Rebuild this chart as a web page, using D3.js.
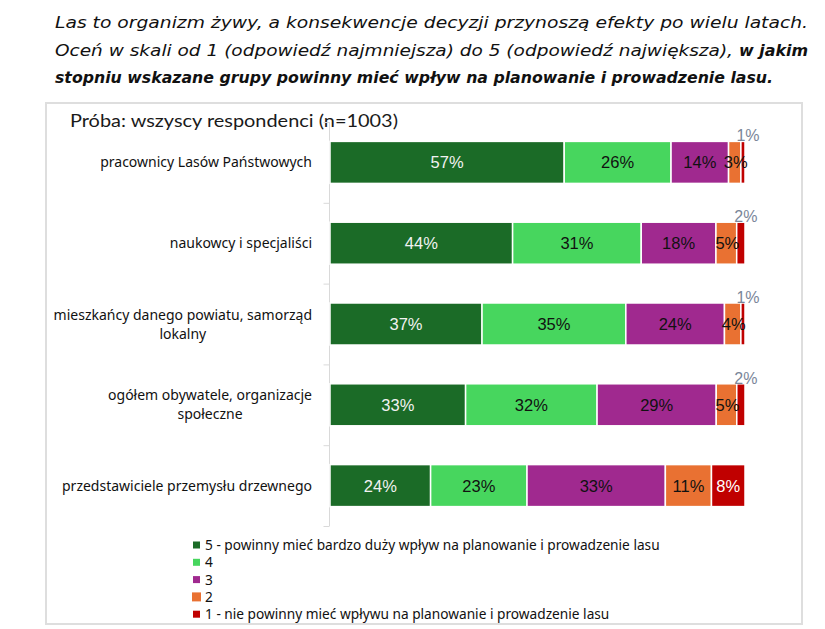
<!DOCTYPE html>
<html><head><meta charset="utf-8">
<script src="https://cdn.jsdelivr.net/npm/d3@7"></script>
<style>body{margin:0;background:#fff}svg{display:block}</style>
</head><body>
<svg id="c" width="825" height="629"></svg>
<script>
const categories = [
  ["pracownicy Lasów Państwowych"],
  ["naukowcy i specjaliści"],
  ["mieszkańcy danego powiatu, samorząd", "lokalny"],
  ["ogółem obywatele, organizacje", "społeczne"],
  ["przedstawiciele przemysłu drzewnego"]
];
const seriesNames = [
  "5 - powinny mieć bardzo duży wpływ na planowanie i prowadzenie lasu",
  "4", "3", "2",
  "1 - nie powinny mieć wpływu na planowanie i prowadzenie lasu"
];
const s5 = [57, 44, 37, 33, 24];
const s4 = [26, 31, 35, 32, 23];
const s3 = [14, 18, 24, 29, 33];
const s2 = [3, 5, 4, 5, 11];
const s1 = [1, 2, 1, 2, 8];
const colors = ["#1b6b27", "#47d65e", "#a0298f", "#e97132", "#c00000"];
const labelColors = ["#f2f2f2", "#111", "#111", "#111", "#fff"];

const series = [s5, s4, s3, s2, s1];
const svg = d3.select("#c");

// frame
svg.append("rect").attr("x", 46).attr("y", 103).attr("width", 756).attr("height", 521)
  .attr("fill", "#fff").attr("stroke", "#dedede").attr("stroke-width", 2);

// heading
const hFont = "'DejaVu Sans', sans-serif";
svg.append("text").attr("x", 55).attr("y", 28).attr("font-family", hFont).attr("font-style", "italic")
  .attr("font-size", 16).attr("fill", "#111").attr("textLength", 753).attr("lengthAdjust", "spacingAndGlyphs")
  .text("Las to organizm żywy, a konsekwencje decyzji przynoszą efekty po wielu latach.");
svg.append("text").attr("x", 55).attr("y", 56).attr("font-family", hFont).attr("font-style", "italic")
  .attr("font-size", 16).attr("fill", "#111").attr("textLength", 678).attr("lengthAdjust", "spacingAndGlyphs")
  .text("Oceń w skali od 1 (odpowiedź najmniejsza) do 5 (odpowiedź największa),");
svg.append("text").attr("x", 739).attr("y", 56).attr("font-family", hFont).attr("font-style", "italic")
  .attr("font-weight", "bold").attr("font-size", 16).attr("fill", "#111").attr("textLength", 69).attr("lengthAdjust", "spacingAndGlyphs")
  .text("w jakim");
svg.append("text").attr("x", 55).attr("y", 83).attr("font-family", hFont).attr("font-style", "italic")
  .attr("font-weight", "bold").attr("font-size", 16).attr("fill", "#111").attr("textLength", 718).attr("lengthAdjust", "spacingAndGlyphs")
  .text("stopniu wskazane grupy powinny mieć wpływ na planowanie i prowadzenie lasu.");

// chart title
svg.append("text").attr("x", 70).attr("y", 127).attr("font-family", "'Lato', sans-serif")
  .attr("font-size", 18).attr("fill", "#1a1a1a").attr("textLength", 328).attr("lengthAdjust", "spacingAndGlyphs")
  .text("Próba: wszyscy respondenci (n=1003)");

// 100% stacked: each row normalised to its total
const x = d3.scaleLinear().domain([0, 100]).range([330, 745]);
const y = d3.scaleBand().domain(d3.range(categories.length)).range([122, 526]).paddingInner(0.48).paddingOuter(0.24);

// axis line + ticks
const axisG = svg.append("g").attr("transform", "translate(329.5,0)");
const ax = d3.axisLeft(d3.scaleLinear().domain([0, 5]).range([122, 526])).ticks(5).tickSize(6).tickFormat("");
axisG.call(ax);
axisG.select(".domain").attr("stroke", "#d9d9d9").attr("d", "M0,122V526");
axisG.selectAll(".tick line").attr("stroke", "#d9d9d9");

// category labels
const catFont = "'Noto Sans', sans-serif";
categories.forEach((lines, i) => {
  const cy = y(i) + y.bandwidth() / 2;
  const g = svg.append("g");
  const ts = lines.map((l, j) => g.append("text").attr("font-family", catFont).attr("font-size", 14)
    .attr("fill", "#111").attr("text-anchor", "middle")
    .attr("y", cy + 5 + (j - (lines.length - 1) / 2) * 19).text(l));
  const maxW = d3.max(ts, t => t.node().getComputedTextLength());
  ts.forEach(t => t.attr("x", 312 - maxW / 2));
});

// bars
const stacked = categories.map((c, i) => {
  const tot = d3.sum(series, s => s[i]);
  let acc = 0;
  return series.map((s, k) => {
    const p = s[i] / tot * 100;
    const d = { i, k, v: s[i], x0: acc, x1: acc + p }; acc += p; return d;
  });
});
const segs = stacked.flat();
svg.append("g").selectAll("rect").data(segs).join("rect")
  .attr("x", d => x(d.x0)).attr("y", d => y(d.i)).attr("width", d => x(d.x1) - x(d.x0))
  .attr("height", y.bandwidth()).attr("fill", d => colors[d.k])
  .attr("stroke", "#fff").attr("stroke-width", 1.5);

// labels
const lblFont = "'Liberation Sans', Arial, sans-serif";
svg.append("g").selectAll("text").data(segs.filter(d => !(d.k === 4 && d.v <= 2))).join("text")
  .attr("x", d => (x(d.x0) + x(d.x1)) / 2 + (d.k === 3 && d.v < 10 ? 1 : 0))
  .attr("y", d => y(d.i) + y.bandwidth() / 2 + 6)
  .attr("text-anchor", "middle").attr("font-family", lblFont).attr("font-size", 16.5)
  .attr("fill", d => labelColors[d.k]).text(d => d.v + "%");
svg.append("g").selectAll("text").data(segs.filter(d => d.k === 4 && d.v <= 2)).join("text")
  .attr("x", d => (x(d.x0) + x(d.x1)) / 2 + 5)
  .attr("y", d => y(d.i) + 0)
  .attr("text-anchor", "middle").attr("font-family", lblFont).attr("font-size", 16)
  .attr("fill", "#7a8699").text(d => d.v + "%");

// legend
const legFont = "'Noto Sans', sans-serif";
const lg = svg.append("g");
seriesNames.forEach((n, k) => {
  const cy = 545 + k * 17.3;
  const sz = k === 3 ? 9 : 7;
  lg.append("rect").attr("x", 196.5 - sz / 2).attr("y", cy - sz / 2).attr("width", sz).attr("height", sz).attr("fill", colors[k]);
  lg.append("text").attr("x", 205).attr("y", cy + 5).attr("font-family", legFont).attr("font-size", 13.7)
    .attr("fill", "#111").text(n);
});
</script>
</body></html>
